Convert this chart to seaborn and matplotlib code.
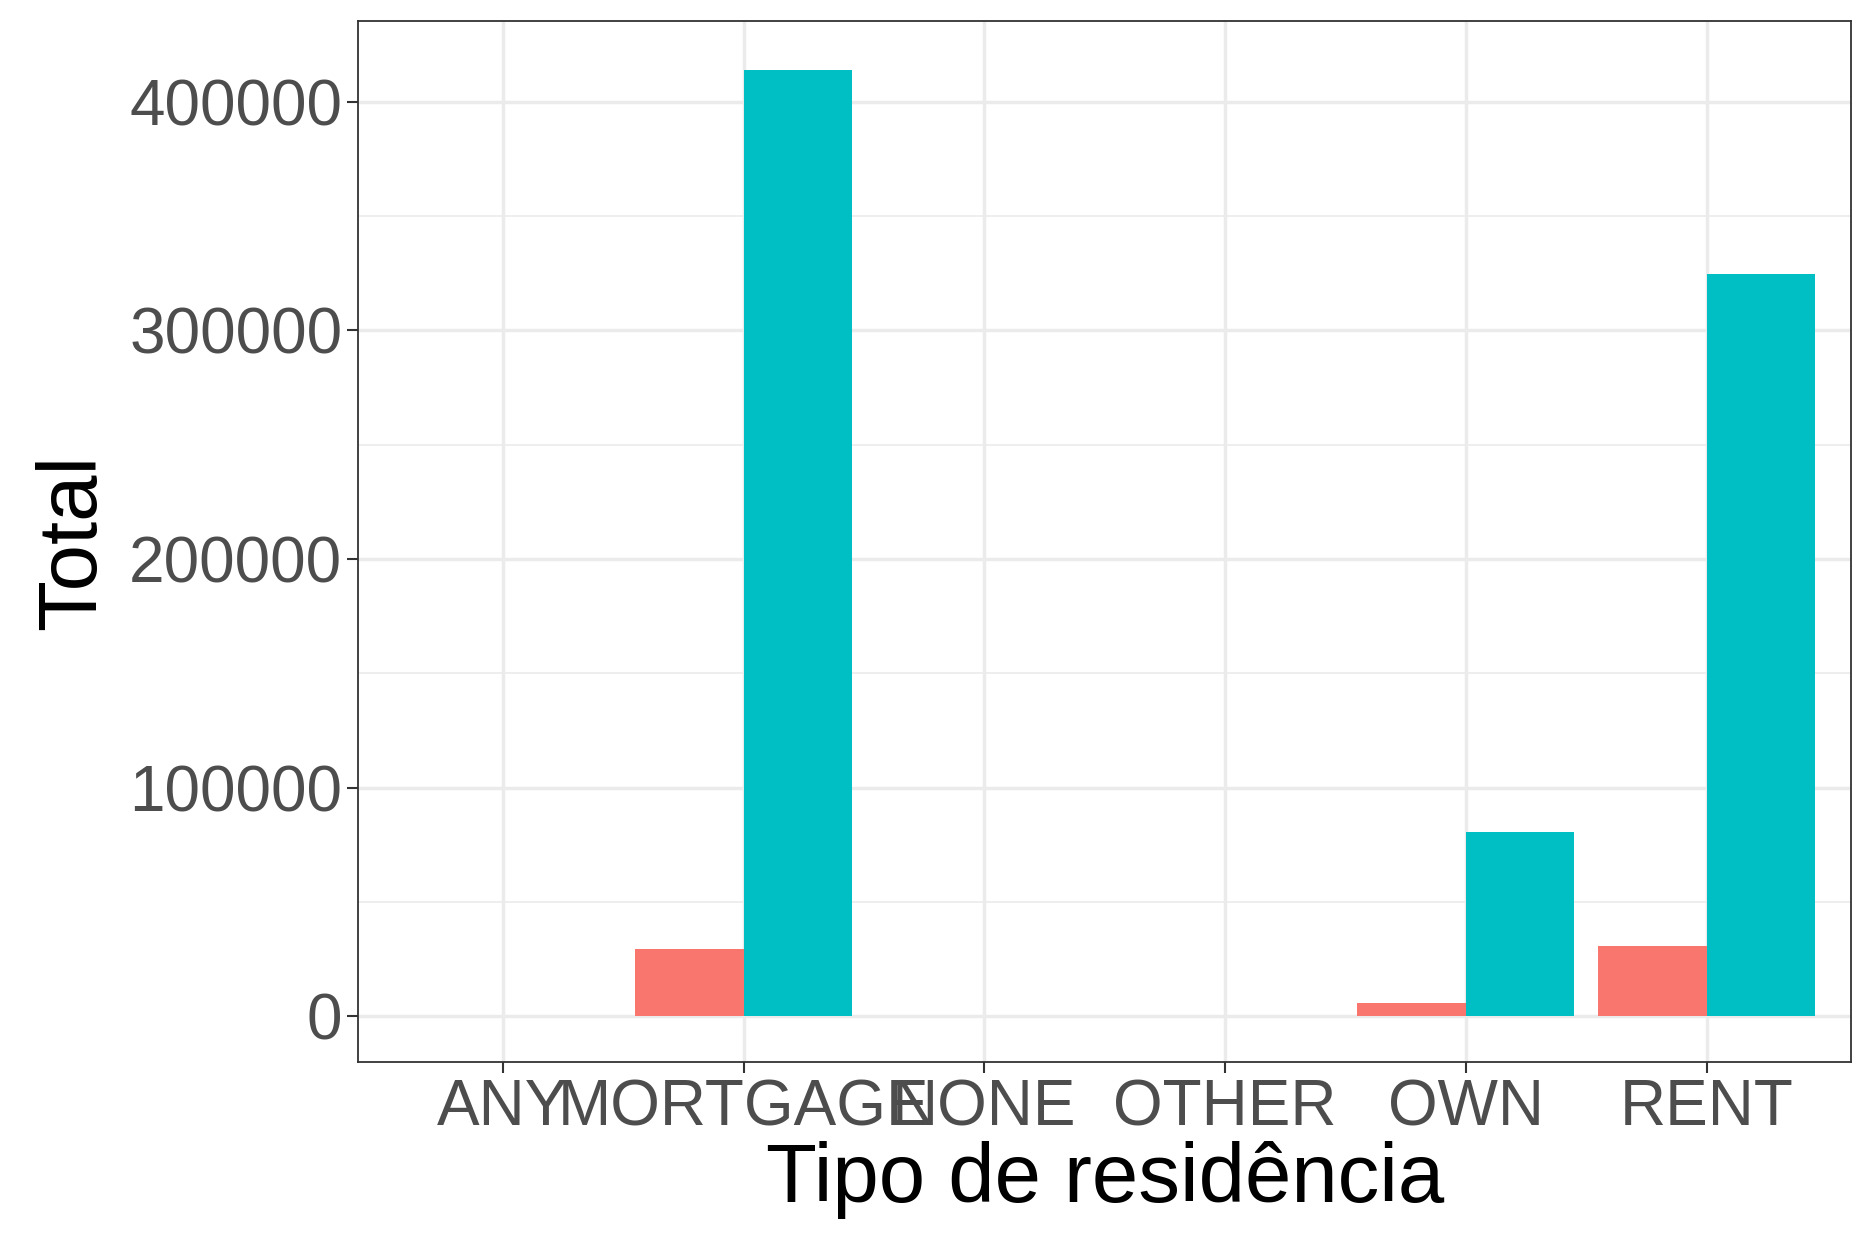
import matplotlib
matplotlib.use("Agg")
import matplotlib.pyplot as plt
import pandas as pd
import seaborn as sns
from matplotlib.ticker import MultipleLocator

categories = ["ANY", "MORTGAGE", "NONE", "OTHER", "OWN", "RENT"]
group_a = [0, 29500, 10, 30, 6000, 31000]       # red
group_b = [1, 414000, 40, 150, 80500, 324500]   # teal

df = pd.DataFrame({
    "tipo": categories * 2,
    "grupo": ["A"] * len(categories) + ["B"] * len(categories),
    "total": group_a + group_b,
})

sns.set_style("white")
plt.rcParams["font.family"] = ["Liberation Sans", "DejaVu Sans"]

fig = plt.figure(figsize=(18.66, 12.51), dpi=100)
ax = fig.add_axes([0.192, 0.151, 0.8, 0.832])
sns.barplot(data=df, x="tipo", y="total", hue="grupo", order=categories,
            palette=["#F8766D", "#00BFC4"], width=0.9, saturation=1,
            legend=False, linewidth=0, ax=ax)

ax.set_xlim(-0.6, 5.6)
ax.set_ylim(-19950, 435170)
ax.yaxis.set_major_locator(MultipleLocator(100000))
ax.yaxis.set_minor_locator(MultipleLocator(50000))
ax.set_axisbelow(True)
ax.grid(which="major", color="#EBEBEB", linewidth=2.5)
ax.grid(which="minor", axis="y", color="#EBEBEB", linewidth=1.2)
ax.tick_params(axis="both", which="major", labelsize=46, labelcolor="#4D4D4D",
               color="#333333", length=8, width=1.5, direction="out", left=True, bottom=True)
ax.tick_params(axis="y", which="minor", length=0)
for s in ax.spines.values():
    s.set_color("#333333")
    s.set_linewidth(1.3)
ax.set_xlabel("Tipo de residência", fontsize=60, labelpad=2, color="black")
ax.set_ylabel("Total", fontsize=60, labelpad=12, color="black")

fig.savefig("out.png", dpi=100)
